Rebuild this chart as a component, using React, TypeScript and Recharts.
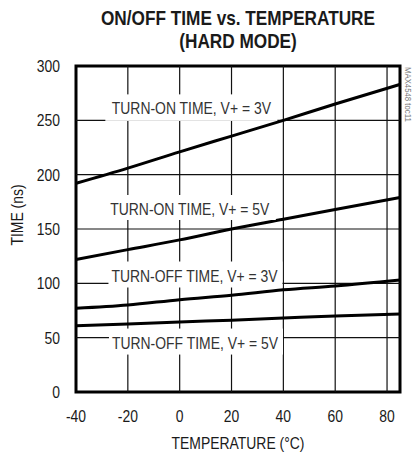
import React from 'react';
import { LineChart, Line, XAxis, YAxis, ReferenceLine, ReferenceArea, ReferenceDot } from 'recharts';

// temperature (°C)
const temps = [-40, -20, 0, 20, 40, 60, 85];
// times (ns)
const turnOn3V = [192, 206, 221, 235.5, 250, 265, 283];
const turnOn5V = [122, 131, 140, 150, 159, 168, 179];
const turnOff3V = [77, 80, 85, 89, 94, 97.5, 103];
const turnOff5V = [61, 62.5, 64.5, 66, 68, 70, 71.7];

const xTicks = [-40, -20, 0, 20, 40, 60, 80];
const yTicks = [0, 50, 100, 150, 200, 250, 300];

const curveNames = ['TURN-ON TIME, V+ = 3V', 'TURN-ON TIME, V+ = 5V', 'TURN-OFF TIME, V+ = 3V', 'TURN-OFF TIME, V+ = 5V'];
const curveLabelX = [4.5, 3.9, 5.7, 5.9];
const curveLabelY = [261, 168.4, 107.2, 45.5];

const data = temps.map((t, i) => ({
  t,
  on3: turnOn3V[i],
  on5: turnOn5V[i],
  off3: turnOff3V[i],
  off5: turnOff5V[i],
}));

const FONT = "'Liberation Sans', Arial, sans-serif";
const INK = '#1a1a1a';
const GRID = '#111';
const SQUEEZE = 0.82; // narrow face look

// text squeezed horizontally around its anchor point
function NarrowText({ x, y, children, anchor = 'middle', size = 17, color = INK, weight = 'normal', rotate = 0 }: any) {
  return (
    <text
      transform={`translate(${x} ${y}) rotate(${rotate}) scale(${SQUEEZE} 1)`}
      textAnchor={anchor}
      fontFamily={FONT}
      fontSize={size}
      fontWeight={weight}
      fill={color}
    >
      {children}
    </text>
  );
}

function XTick(props: any) {
  const { x, y, payload } = props;
  return <NarrowText x={x} y={y + 12}>{payload.value}</NarrowText>;
}

function YTick(props: any) {
  const { x, y, payload } = props;
  return <NarrowText x={x} y={y + 6} anchor="end">{payload.value}</NarrowText>;
}

// white box behind each curve name, hides the grid like the datasheet plot
function CurveTag(props: any) {
  const { viewBox, text, right = 88, bottom = 12 } = props;
  const x = viewBox.x;
  const y = viewBox.y;
  return (
    <g>
      <rect x={x - 86} y={y - 14} width={86 + right} height={14 + bottom} fill="#fff" />
      <NarrowText x={x} y={y + 6} color="#333">{text}</NarrowText>
    </g>
  );
}

const tagRight = [86, 86, 88, 88];
const tagBottom = [12.5, 11, 12, 12];

export default function App() {
  return (
    <div style={{ position: 'absolute', left: 0, top: 0, width: 414, height: 455 }}>
      <LineChart width={414} height={455} data={data} margin={{ top: 66, right: 14, bottom: 0, left: 0 }}>
        <XAxis
          dataKey="t"
          type="number"
          domain={[-40, 85]}
          ticks={xTicks}
          tickLine={false}
          axisLine={false}
          tickMargin={12}
          height={63}
          tick={<XTick />}
        />
        <YAxis
          type="number"
          domain={[0, 300]}
          ticks={yTicks}
          tickLine={false}
          axisLine={false}
          tickMargin={10}
          width={76}
          tick={<YTick />}
        />
        {xTicks.slice(1).map((t) => (
          <ReferenceLine key={`vx${t}`} x={t} stroke={GRID} strokeWidth={1.2} />
        ))}
        {yTicks.slice(1, -1).map((v) => (
          <ReferenceLine key={`hy${v}`} y={v} stroke={GRID} strokeWidth={1.2} />
        ))}
        {curveNames.map((name, i) => (
          <ReferenceDot
            key={name}
            x={curveLabelX[i]}
            y={curveLabelY[i]}
            r={0}
            label={<CurveTag text={name} right={tagRight[i]} bottom={tagBottom[i]} />}
          />
        ))}
        <Line dataKey="on3" type="monotone" stroke="#000" strokeWidth={3} dot={false} isAnimationActive={false} />
        <Line dataKey="on5" type="monotone" stroke="#000" strokeWidth={3} dot={false} isAnimationActive={false} />
        <Line dataKey="off3" type="monotone" stroke="#000" strokeWidth={3} dot={false} isAnimationActive={false} />
        <Line dataKey="off5" type="monotone" stroke="#000" strokeWidth={3} dot={false} isAnimationActive={false} />
        <ReferenceArea x1={-40} x2={85} y1={0} y2={300} fill="none" stroke="#000" strokeWidth={3} />
        <NarrowText x={238} y={25} size={21} weight="bold">ON/OFF TIME vs. TEMPERATURE</NarrowText>
        <NarrowText x={238} y={48} size={21} weight="bold">(HARD MODE)</NarrowText>
        <NarrowText x={238} y={449}>TEMPERATURE (°C)</NarrowText>
        <NarrowText x={23} y={215} rotate={-90}>TIME (ns)</NarrowText>
        <NarrowText x={405} y={67} rotate={90} anchor="start" size={9.5} color="#777">MAX4548 toc11</NarrowText>
      </LineChart>
    </div>
  );
}
